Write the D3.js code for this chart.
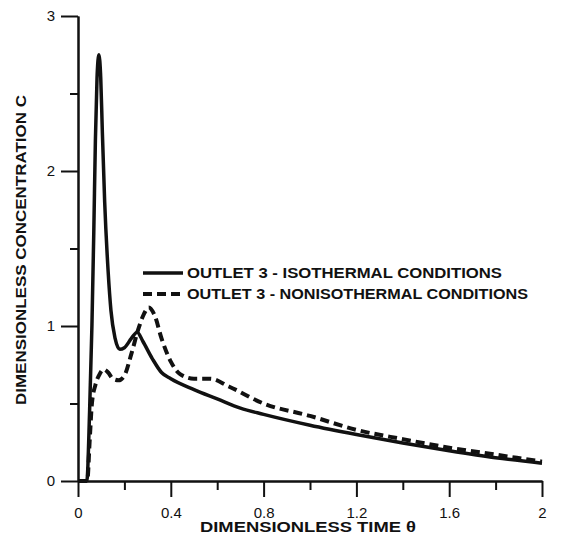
<!DOCTYPE html>
<html>
<head>
<meta charset="utf-8">
<script src="https://cdn.jsdelivr.net/npm/d3@7"></script>
<style>
  body { margin: 0; background: #fff; }
  svg { font-family: "Liberation Sans", Arial, sans-serif; }
  .axis path, .axis line { stroke: #111; stroke-width: 2; }
  .axis text { font-size: 15px; fill: #111; }
  .title { font-weight: bold; font-size: 14px; fill: #111; }
  .legend text { font-weight: bold; font-size: 14.5px; fill: #111; }
</style>
</head>
<body>
<svg width="565" height="542"></svg>
<script>
// isothermal (solid)
const isoTheta = [0, 0.038, 0.05, 0.06, 0.068, 0.075, 0.082, 0.09, 0.098, 0.105, 0.115, 0.13, 0.142, 0.16, 0.18, 0.2, 0.23, 0.255, 0.28, 0.32, 0.36, 0.4, 0.5, 0.6, 0.7, 0.8, 1.0, 1.2, 1.4, 1.6, 1.8, 2.0];
const isoC     = [0, 0, 0.45, 1.0, 1.6, 2.2, 2.6, 2.75, 2.6, 2.25, 1.8, 1.35, 1.1, 0.92, 0.85, 0.86, 0.92, 0.96, 0.9, 0.79, 0.7, 0.66, 0.59, 0.53, 0.47, 0.43, 0.36, 0.30, 0.245, 0.195, 0.15, 0.115];
// nonisothermal (dashed)
const nonTheta = [0, 0.04, 0.05, 0.06, 0.075, 0.09, 0.11, 0.13, 0.15, 0.175, 0.2, 0.23, 0.26, 0.285, 0.305, 0.33, 0.36, 0.4, 0.44, 0.5, 0.57, 0.65, 0.8, 1.0, 1.2, 1.4, 1.6, 1.8, 2.0];
const nonC     = [0, 0, 0.25, 0.5, 0.62, 0.68, 0.72, 0.7, 0.66, 0.65, 0.68, 0.82, 0.98, 1.08, 1.12, 1.07, 0.92, 0.77, 0.69, 0.66, 0.66, 0.61, 0.5, 0.42, 0.33, 0.27, 0.215, 0.17, 0.125];

const xMajor = [0, 0.4, 0.8, 1.2, 1.6, 2];
const xMinor = [0.2, 0.6, 1.0, 1.4, 1.8];
const yMajor = [0, 1, 2, 3];
const yMinor = [0.5, 1.5, 2.5];
const legendLabels = ["OUTLET 3 - ISOTHERMAL CONDITIONS", "OUTLET 3 - NONISOTHERMAL CONDITIONS"];

const svg = d3.select("svg");
const x = d3.scaleLinear().domain([0, 2]).range([78, 542]);
const y = d3.scaleLinear().domain([0, 3]).range([481, 16]);

// x axis
svg.append("g").attr("class", "axis")
  .attr("transform", `translate(0,${y(0)})`)
  .call(d3.axisBottom(x).tickValues(xMinor).tickSize(9).tickSizeOuter(0).tickFormat(""));
svg.append("g").attr("class", "axis")
  .attr("transform", `translate(0,${y(0)})`)
  .call(d3.axisBottom(x).tickValues(xMajor).tickSize(16).tickSizeOuter(0).tickPadding(10)
    .tickFormat(d => String(d)));

// y axis
svg.append("g").attr("class", "axis")
  .attr("transform", `translate(${x(0)},0)`)
  .call(d3.axisLeft(y).tickValues(yMinor).tickSize(8).tickSizeOuter(0).tickFormat(""));
svg.append("g").attr("class", "axis")
  .attr("transform", `translate(${x(0)},0)`)
  .call(d3.axisLeft(y).tickValues(yMajor).tickSize(17).tickSizeOuter(0).tickPadding(6)
    .tickFormat(d => String(d)));

// axis titles
svg.append("text").attr("class", "title")
  .attr("x", 200).attr("y", 532)
  .attr("textLength", 216).attr("lengthAdjust", "spacingAndGlyphs")
  .text("DIMENSIONLESS TIME \u03b8");
svg.append("text").attr("class", "title")
  .attr("transform", "translate(26,405) rotate(-90)")
  .attr("textLength", 310).attr("lengthAdjust", "spacingAndGlyphs")
  .text("DIMENSIONLESS CONCENTRATION C");

// curves
const line = d3.line()
  .x(d => x(d[0]))
  .y(d => y(d[1]))
  .curve(d3.curveMonotoneX);

svg.append("path")
  .datum(d3.zip(isoTheta, isoC))
  .attr("d", line)
  .attr("fill", "none")
  .attr("stroke", "#111")
  .attr("stroke-width", 3.5);

svg.append("path")
  .datum(d3.zip(nonTheta, nonC))
  .attr("d", line)
  .attr("fill", "none")
  .attr("stroke", "#111")
  .attr("stroke-width", 4)
  .attr("stroke-dasharray", "9,5");

// legend
const legendWidths = [315, 341];
const legend = svg.append("g").attr("class", "legend");
legendLabels.forEach((label, i) => {
  const ly = 273 + i * 21;
  legend.append("line")
    .attr("x1", 143).attr("x2", 183)
    .attr("y1", ly).attr("y2", ly)
    .attr("stroke", "#111")
    .attr("stroke-width", i === 0 ? 3.5 : 4)
    .attr("stroke-dasharray", i === 0 ? null : "9,5");
  legend.append("text")
    .attr("x", 187).attr("y", ly)
    .attr("dy", "0.36em")
    .attr("textLength", legendWidths[i]).attr("lengthAdjust", "spacingAndGlyphs")
    .text(label);
});
</script>
</body>
</html>
